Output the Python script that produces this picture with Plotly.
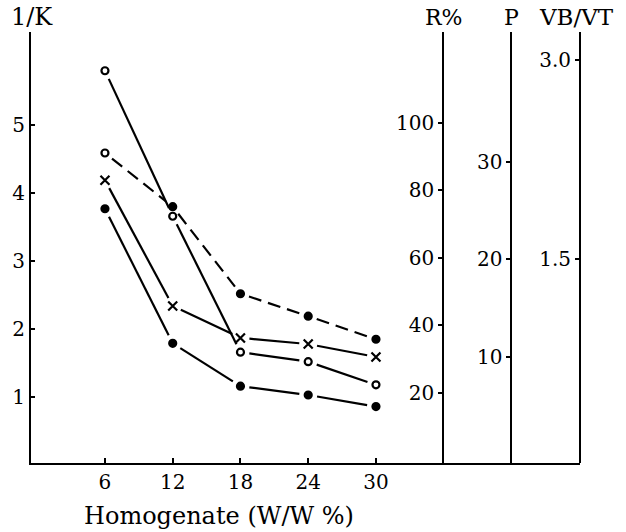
import math
import plotly.graph_objects as go

# ---- data ----
homogenate = [6, 12, 18, 24, 30]
s_open = [5.8, 3.66, 1.66, 1.52, 1.18]      # solid line, open circles
s_dash = [4.59, 3.80, 2.52, 2.19, 1.85]     # dashed line, dots
s_cross = [4.19, 2.34, 1.87, 1.78, 1.59]    # solid line, crosses
s_low = [3.77, 1.79, 1.16, 1.03, 0.86]      # solid line, dots

k_ticks = [1, 2, 3, 4, 5]
r_ticks = [20, 40, 60, 80, 100]
p_ticks = [10, 20, 30]
vb_ticks = [1.5, 3.0]
vb_labels = ["1.5", "3.0"]

FONT = "DejaVu Serif"
INK = "#000000"

W, H = 626, 532
M = dict(l=29, r=46, t=32, b=69)
XR = [-0.55, 48.07]
YR = [0.03, 6.37]
GAP = 9  # px left blank around each point, as in the printed figure

sx = (W - M["l"] - M["r"]) / (XR[1] - XR[0])
sy = (H - M["t"] - M["b"]) / (YR[1] - YR[0])


def gapped(xs, ys, gap=GAP):
    """Polyline split into segments that stop short of each data point."""
    ox, oy = [], []
    for (x0, y0), (x1, y1) in zip(zip(xs, ys), zip(xs[1:], ys[1:])):
        dx, dy = (x1 - x0) * sx, (y1 - y0) * sy
        L = math.hypot(dx, dy)
        f = gap / L
        ox += [x0 + (x1 - x0) * f, x1 - (x1 - x0) * f, None]
        oy += [y0 + (y1 - y0) * f, y1 - (y1 - y0) * f, None]
    return ox, oy


fig = go.Figure()

series = [
    (s_open, "solid", "circle-open"),
    (s_dash, "13px,7px", "circle"),
    (s_cross, "solid", "x-thin"),
    (s_low, "solid", "circle"),
]
dash_symbols = ["circle-open", "circle", "circle", "circle", "circle"]

for ys, dash, sym in series:
    gx, gy = gapped(homogenate, ys)
    fig.add_trace(go.Scatter(x=gx, y=gy, mode="lines", connectgaps=False,
                             line=dict(color=INK, width=2.2, dash=dash),
                             showlegend=False, hoverinfo="skip"))
for i, (ys, dash, sym) in enumerate(series):
    symbols = dash_symbols if i == 1 else sym
    fig.add_trace(go.Scatter(x=homogenate, y=ys, mode="markers",
                             marker=dict(color=INK, size=7 if sym != "x-thin" else 9,
                                         symbol=symbols,
                                         line=dict(color=INK, width=2.2)),
                             showlegend=False, hoverinfo="skip"))

# dummy traces so the extra axes are drawn
for ax in ["y2", "y3", "y4"]:
    fig.add_trace(go.Scatter(x=[None], y=[None], yaxis=ax, showlegend=False, hoverinfo="skip"))

tickfont = dict(family=FONT, size=20, color=INK)
common = dict(showgrid=False, zeroline=False, showline=True, linecolor=INK, linewidth=2,
              tickcolor=INK, tickwidth=1.5, tickfont=tickfont)
fig.update_layout(
    width=W, height=H,
    margin=M,
    paper_bgcolor="white", plot_bgcolor="white",
    font=dict(family=FONT, color=INK),
    xaxis=dict(range=XR, tickvals=homogenate, ticks="inside", ticklen=5, **common),
    yaxis=dict(range=YR, tickvals=k_ticks, ticks="inside", ticklen=4, **common),
    yaxis2=dict(range=[-0.7, 126.8], tickvals=r_ticks, overlaying="y", anchor="free",
                position=0.751, side="left", ticks="outside", ticklen=4, **common),
    yaxis3=dict(range=[-0.92, 43.28], tickvals=p_ticks, overlaying="y", anchor="free",
                position=0.875, side="left", ticks="outside", ticklen=4, **common),
    yaxis4=dict(range=[-0.04, 3.21], tickvals=vb_ticks, ticktext=vb_labels, overlaying="y",
                anchor="free", position=1.0, side="left", ticks="outside", ticklen=4, **common),
    annotations=[
        dict(text="1/K", xref="paper", yref="paper", x=0.001, y=1.034, showarrow=False,
             xanchor="center", yanchor="middle", font=dict(family=FONT, size=24, color=INK)),
        dict(text="R%", xref="paper", yref="paper", x=0.751, y=1.034, showarrow=False,
             xanchor="center", yanchor="middle", font=dict(family=FONT, size=22, color=INK)),
        dict(text="P", xref="paper", yref="paper", x=0.875, y=1.034, showarrow=False,
             xanchor="center", yanchor="middle", font=dict(family=FONT, size=22, color=INK)),
        dict(text="VB/VT", xref="paper", yref="paper", x=0.993, y=1.034, showarrow=False,
             xanchor="center", yanchor="middle", font=dict(family=FONT, size=23, color=INK)),
        dict(text="Homogenate (W/W %)", xref="x", yref="paper", x=16.1, y=-0.122,
             showarrow=False, xanchor="center", yanchor="middle",
             font=dict(family=FONT, size=24, color=INK)),
    ],
)

fig.write_html("out.html")
